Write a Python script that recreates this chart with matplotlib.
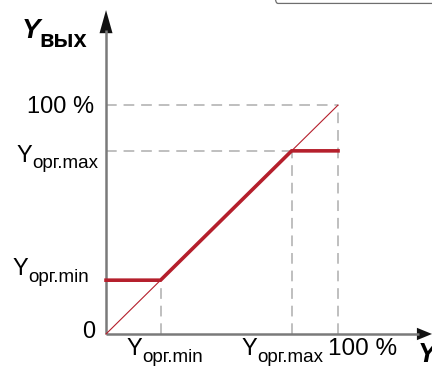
"""Output limiting characteristic: Yвых vs Y with Yорг.min / Yорг.max clamps."""

import matplotlib
matplotlib.use("Agg")
import matplotlib.pyplot as plt
from matplotlib.patches import FancyBboxPatch

# values (percent of range)
y_full = 100.0
y_min = 23.5
y_max = 80.0

# limited output curve
curve_x = [0.0, y_min, y_max, y_full]
curve_y = [y_min, y_min, y_max, y_max]
# unlimited (identity) line
ident_x = [0.0, y_full]
ident_y = [0.0, y_full]

sub_min = "орг.min"
sub_max = "орг.max"

RED = "#b51f2c"
DASH = "#adadad"
AXIS = "#7a7a7a"
FONT = ["Liberation Sans Narrow", "Liberation Sans", "DejaVu Sans"]

fig = plt.figure(figsize=(4.32, 3.69), dpi=100)
ax = fig.add_axes([0, 0, 1, 1])
ax.set_xlim(-45.7, 140.5)
ax.set_ylim(-15.3, 145.9)
ax.axis("off")
renderer = fig.canvas.get_renderer()

# guide lines
dash = dict(color=DASH, lw=1.1, dashes=(7, 4.5))
ax.plot([0, y_full], [y_full, y_full], **dash)
ax.plot([y_full, y_full], [0, y_full], **dash)
ax.plot([0, y_max], [y_max, y_max], **dash)
ax.plot([y_max, y_max], [0, y_max], **dash)
ax.plot([y_min, y_min], [0, y_min], **dash)

# axes with arrows
ax.plot([0, 0], [0, 133], color=AXIS, lw=1.8, solid_capstyle="butt")
ax.plot([0, 135], [0, 0], color=AXIS, lw=1.8, solid_capstyle="butt")
ax.fill([-2.8, 2.8, 0], [131.4, 131.4, 141.5], color="#111111", lw=0)
ax.fill([134.0, 134.0, 140.5], [-2.7, 2.7, 0], color="#111111", lw=0)

# characteristic
ax.plot(ident_x, ident_y, color=RED, lw=0.8)
ax.plot(curve_x, curve_y, color=RED, lw=2.6, solid_joinstyle="miter")


def ylabel(x, y, sub, size, sub_size, drop, **kw):
    t = ax.text(x, y, "Y", fontsize=size, family=FONT, va="baseline", ha="left", **kw)
    bb = t.get_window_extent(renderer)
    ax.annotate(sub, xy=(x, y), xytext=(bb.width * 0.72 - 0.3, -drop),
                textcoords="offset points", fontsize=sub_size, family=FONT,
                va="baseline", ha="left")


# y-axis tick labels
ax.text(-5.3, 96.5, "100 %", fontsize=17, family=FONT, ha="right", va="baseline")
ax.text(-4.7, -1.8, "0", fontsize=17, family=FONT, ha="right", va="baseline")
ylabel(-38.4, 75.1, sub_max, 17, 13.5, 4)
ylabel(-40.1, 25.8, sub_min, 17, 13.5, 5)

# x-axis tick labels
ylabel(9.0, -9.2, sub_min, 17, 13.5, 5)
ylabel(58.6, -9.2, sub_max, 17, 13.5, 5)
ax.text(95.6, -9.2, "100 %", fontsize=17.5, family=FONT, ha="left", va="baseline")

# axis titles
t = ax.text(-36.2, 129.3, "Y", fontsize=20, family=FONT, weight="bold",
            style="italic", va="baseline")
bb = t.get_window_extent(renderer)
ax.annotate("вых", xy=(-36.2, 129.3), xytext=(bb.width * 0.72 - 1.0, -6.5),
            textcoords="offset points", fontsize=17, family=FONT,
            weight="bold", va="baseline")
ax.text(134.5, -12.3, "Y", fontsize=20, family=FONT, weight="bold",
        style="italic", va="baseline")

# frame of the neighbouring caption box (cut by the top edge)
box = FancyBboxPatch((72.0, 144.4), 120, 20, boxstyle="round,pad=0,rounding_size=2",
                     fc="none", ec="#6e6e6e", lw=0.9, clip_on=True)
ax.add_patch(box)

fig.savefig("out.png", dpi=100)
